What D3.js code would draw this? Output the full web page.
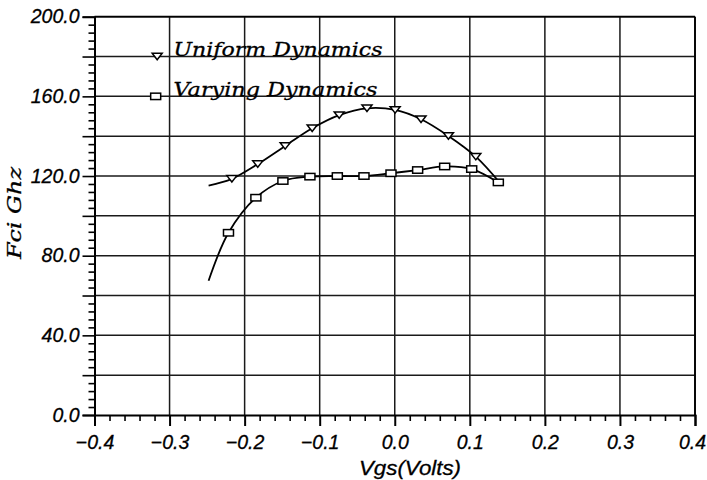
<!DOCTYPE html>
<html>
<head>
<meta charset="utf-8">
<script src="https://cdn.jsdelivr.net/npm/d3@7"></script>
<style>
  html, body { margin: 0; padding: 0; background: #fff; }
  svg { display: block; }
</style>
</head>
<body>
<svg id="chart" width="707" height="480"></svg>
<script>
// ---- data ----
const seriesNames = ["Uniform Dynamics", "Varying Dynamics"];

const uniformVgs = [-0.217, -0.1825, -0.146, -0.110, -0.074, -0.037, 0.0005, 0.035, 0.0715, 0.108];
const uniformFci = [118.6, 126.0, 135.1, 144.0, 150.6, 154.0, 153.2, 148.5, 140.1, 129.7];
const uniformLeadVgs = -0.248, uniformLeadFci = 115.2;
const uniformTailVgs = 0.1425, uniformTailFci = 115.5;

const varyingVgs = [-0.2215, -0.185, -0.149, -0.113, -0.0765, -0.041, -0.005, 0.0305, 0.0665, 0.1025, 0.138];
const varyingFci = [91.5, 109.1, 117.5, 119.7, 120.0, 120.0, 121.4, 123.0, 124.8, 123.5, 116.8];
const varyingLeadVgs = -0.248, varyingLeadFci = 67.4;

const xTickValues = [-0.4, -0.3, -0.2, -0.1, 0.0, 0.1, 0.2, 0.3, 0.4];
const yTickValues = [0, 40, 80, 120, 160, 200];
const xTitle = "Vgs(Volts)";
const yTitle = "Fci  Ghz";

(function () {
// ---- layout ----
const svg = d3.select("#chart");
const pL = 94.5, pR = 695, pT = 16.7, pB = 415;

const x = d3.scaleLinear().domain([-0.4, 0.4]).range([pL, pR]);
const y = d3.scaleLinear().domain([0, 200]).range([pB, pT]);

const fmt = d3.format(".1f");
const labelFont = "'Liberation Sans', Arial, sans-serif";

// grid
const gridX = d3.range(-3, 5).map(d => d / 10);
const gridY = d3.range(1, 11).map(d => d * 20);
svg.append("g").selectAll("line").data(gridX).join("line")
  .attr("x1", d => x(d)).attr("x2", d => x(d))
  .attr("y1", pT).attr("y2", pB)
  .attr("stroke", "#1a1a1a").attr("stroke-width", 1.5);
svg.append("g").selectAll("line").data(gridY).join("line")
  .attr("x1", pL).attr("x2", pR)
  .attr("y1", d => y(d)).attr("y2", d => y(d))
  .attr("stroke", "#1a1a1a").attr("stroke-width", 1.5);

// x axis: major ticks
const xAxisMajor = d3.axisBottom(x).tickValues(xTickValues).tickFormat(fmt).tickSize(11).tickPadding(9);
const gx = svg.append("g").attr("transform", `translate(0,${pB})`).call(xAxisMajor);
gx.select(".domain").attr("stroke", "#000").attr("stroke-width", 2);
gx.selectAll(".tick line").attr("stroke", "#000").attr("stroke-width", 2);
gx.selectAll(".tick text")
  .attr("font-family", labelFont)
  .attr("font-style", "italic").attr("font-size", 19.5).attr("fill", "#000")
  .attr("stroke", "#000").attr("stroke-width", 0.3)
  .attr("dx", d => d === 0.4 ? -3 : 0);
// x minor ticks
const xMinor = d3.range(-40, 41, 2).map(d => d / 100).filter(d => Math.abs(Math.round(d * 10) - d * 10) > 1e-6);
svg.append("g").attr("transform", `translate(0,${pB})`)
  .call(d3.axisBottom(x).tickValues(xMinor).tickFormat("").tickSize(6))
  .call(g => g.select(".domain").remove())
  .selectAll(".tick line").attr("stroke", "#000").attr("stroke-width", 1.6);

// y axis
const yAxisMajor = d3.axisLeft(y).tickValues(yTickValues).tickFormat(fmt).tickSize(12).tickPadding(3);
const gy = svg.append("g").attr("transform", `translate(${pL},0)`).call(yAxisMajor);
gy.select(".domain").attr("stroke", "#000").attr("stroke-width", 2);
gy.selectAll(".tick line").attr("stroke", "#000").attr("stroke-width", 1.6);
gy.selectAll(".tick text")
  .attr("font-family", labelFont)
  .attr("font-style", "italic").attr("font-size", 19.5).attr("fill", "#000")
  .attr("stroke", "#000").attr("stroke-width", 0.3);
// y mid ticks (every 20 not labelled)
svg.append("g").attr("transform", `translate(${pL},0)`)
  .call(d3.axisLeft(y).tickValues(gridY.filter(d => d % 40 !== 0)).tickFormat("").tickSize(12))
  .call(g => g.select(".domain").remove())
  .selectAll(".tick line").attr("stroke", "#000").attr("stroke-width", 1.6);
// y minor ticks every 4
const yMinor = d3.range(0, 201, 4).filter(d => d % 20 !== 0);
svg.append("g").attr("transform", `translate(${pL},0)`)
  .call(d3.axisLeft(y).tickValues(yMinor).tickFormat("").tickSize(6))
  .call(g => g.select(".domain").remove())
  .selectAll(".tick line").attr("stroke", "#000").attr("stroke-width", 1.6);

// top and right frame
svg.append("line").attr("x1", pL).attr("x2", pR).attr("y1", pT).attr("y2", pT)
  .attr("stroke", "#000").attr("stroke-width", 1.8);
svg.append("line").attr("x1", pR).attr("x2", pR).attr("y1", pT).attr("y2", pB)
  .attr("stroke", "#000").attr("stroke-width", 1.8);

// titles
svg.append("text").attr("x", 410).attr("y", 475).attr("text-anchor", "middle")
  .attr("font-family", labelFont)
  .attr("font-style", "italic").attr("font-size", 20)
  .attr("stroke", "#000").attr("stroke-width", 0.3)
  .attr("textLength", 102).attr("lengthAdjust", "spacingAndGlyphs")
  .text(xTitle);
svg.append("text").attr("transform", "translate(21,259) rotate(-90)")
  .attr("font-family", "'DejaVu Serif', serif")
  .attr("font-style", "italic").attr("font-size", 18)
  .attr("stroke", "#000").attr("stroke-width", 0.3)
  .attr("textLength", 92).attr("lengthAdjust", "spacingAndGlyphs")
  .text(yTitle);

// curves
const line = d3.line().x(d => x(d[0])).y(d => y(d[1])).curve(d3.curveCatmullRom.alpha(0.5));
const uniformPts = [[uniformLeadVgs, uniformLeadFci]]
  .concat(uniformVgs.map((v, i) => [v, uniformFci[i]]))
  .concat([[uniformTailVgs, uniformTailFci]]);
const varyingPts = [[varyingLeadVgs, varyingLeadFci]]
  .concat(varyingVgs.map((v, i) => [v, varyingFci[i]]));
svg.append("path").attr("d", line(uniformPts)).attr("fill", "none")
  .attr("stroke", "#000").attr("stroke-width", 1.8);
svg.append("path").attr("d", line(varyingPts)).attr("fill", "none")
  .attr("stroke", "#000").attr("stroke-width", 1.8);

// markers
const triPath = "M-5,-3.2L5,-3.2L0,3.2Z";
function drawTri(g, cx, cy) {
  g.append("path").attr("d", triPath).attr("transform", `translate(${cx},${cy})`)
    .attr("fill", "#fff").attr("stroke", "#000").attr("stroke-width", 1.5);
}
function drawSq(g, cx, cy) {
  g.append("rect").attr("x", cx - 5).attr("y", cy - 3.2).attr("width", 10).attr("height", 6.4)
    .attr("fill", "#fff").attr("stroke", "#000").attr("stroke-width", 1.5);
}
const gm = svg.append("g");
uniformVgs.forEach((v, i) => drawTri(gm, x(v), y(uniformFci[i])));
varyingVgs.forEach((v, i) => drawSq(gm, x(v), y(varyingFci[i])));

// legend
const lg = svg.append("g");
const legendFont = "'DejaVu Serif', serif";
drawTri(lg, x(-0.3165), y(180));
drawSq(lg, x(-0.3185), y(160));
lg.append("text").attr("x", 173.5).attr("y", y(180) - 0.5)
  .attr("font-family", legendFont).attr("font-style", "italic").attr("font-size", 19)
  .attr("stroke", "#000").attr("stroke-width", 0.3)
  .attr("textLength", 209).attr("lengthAdjust", "spacingAndGlyphs")
  .text(seriesNames[0]);
lg.append("text").attr("x", 173.5).attr("y", y(160) - 0.5)
  .attr("font-family", legendFont).attr("font-style", "italic").attr("font-size", 19)
  .attr("stroke", "#000").attr("stroke-width", 0.3)
  .attr("textLength", 204).attr("lengthAdjust", "spacingAndGlyphs")
  .text(seriesNames[1]);
})();
</script>
</body>
</html>
